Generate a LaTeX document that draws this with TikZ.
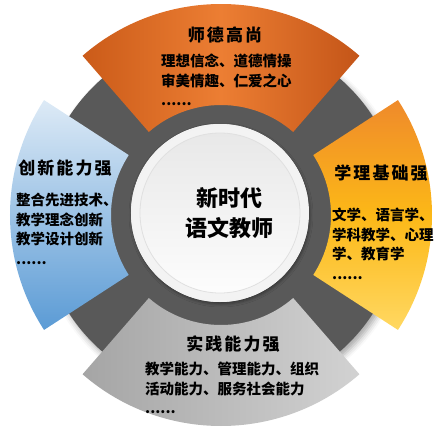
\documentclass[tikz,border=0pt]{standalone}
\usepackage{fontspec}
\newfontfamily\cjk{Noto Sans CJK SC}
\newfontfamily\cjkt[LetterSpace=12]{Noto Sans CJK SC}
\usetikzlibrary{shadows.blur}
\definecolor{ringgray}{HTML}{595959}
\definecolor{orA}{HTML}{CB5B19}
\definecolor{orB}{HTML}{EC7E33}
\definecolor{orC}{HTML}{C45518}
\definecolor{yeA}{HTML}{EF8A2B}
\definecolor{yeB}{HTML}{FCB817}
\definecolor{yeC}{HTML}{FFD862}
\definecolor{grA}{HTML}{A5A5A5}
\definecolor{grB}{HTML}{D2D2D2}
\definecolor{blA}{HTML}{DDEAF6}
\definecolor{blB}{HTML}{5B9BD5}
\newcommand\secpath[2]{(#1:110pt) arc[start angle=#1, end angle=#2, radius=110pt] -- (#2:211pt) arc[start angle=#2, end angle=#1, radius=211pt] -- cycle}
\tikzset{
  titletext/.style={inner sep=0pt, font=\cjkt\bfseries\fontsize{17}{20}\selectfont, text=black},
  bodytext/.style={inner sep=0pt, anchor=north west, align=left, font=\cjk\bfseries\fontsize{14.5}{19.5}\selectfont, text=black},
  centertext/.style={inner sep=0pt, align=center, font=\cjk\bfseries\fontsize{22}{30}\selectfont, text=black}
}
\begin{document}
\begin{tikzpicture}[x=1pt,y=1pt]
\useasboundingbox (-221,-225) rectangle (221,215);
% gray ring with shadow
\fill[ringgray, blur shadow={shadow xshift=3pt, shadow yshift=-4pt, shadow blur radius=6pt, shadow opacity=35}] (0,0) circle[radius=181pt];
% sectors
\shade[left color=orA, right color=orC, middle color=orB] \secpath{49}{131};
\shade[top color=yeA, bottom color=yeC, middle color=yeB] \secpath{-33}{33};
\shade[left color=grA, right color=grB] \secpath{229}{311};
\shade[top color=blA, bottom color=blB] \secpath{147}{213};
% centre disc
\fill[black!30, blur shadow={shadow xshift=1pt, shadow yshift=-2pt, shadow blur radius=3pt, shadow opacity=40}, fill=white] (-1,2) circle[radius=89pt];
\shade[inner color=white, outer color=black!5] (-1,2) circle[radius=89pt];
\shade[shading angle=135, top color=black!9, bottom color=black!1] (-1,2) circle[radius=80pt];
\draw[black!12, line width=0.8pt] (-1,2) circle[radius=80pt];
% texts
\node[centertext] (c) at (9,2) {新时代\\语文教师};
\node[titletext] (t1) at (4,180) {师德高尚};
\node[bodytext] (b1) at (-60,161) {理想信念、道德情操\\审美情趣、仁爱之心\\......};
\node[titletext] (t2) at (160,42) {学理基础强};
\node[bodytext] (b2) at (111,7) {文学、语言学、\\学科教学、心理\\学、教育学\\......};
\node[titletext] (t3) at (12,-129) {实践能力强};
\node[bodytext] (b3) at (-76,-147) {教学能力、管理能力、组织\\活动能力、服务社会能力\\......};
\node[titletext] (t4) at (-156,47) {创新能力强};
\node[bodytext] (b4) at (-205,22) {整合先进技术、\\教学理念创新\\教学设计创新\\......};
\end{tikzpicture}
\end{document}
